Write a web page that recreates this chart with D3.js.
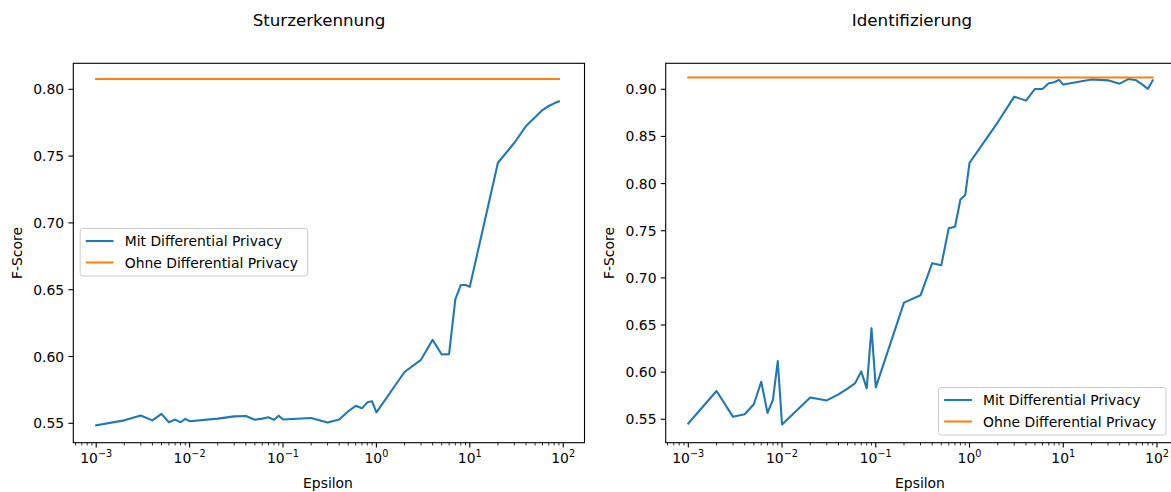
<!DOCTYPE html>
<html>
<head>
<meta charset="utf-8">
<script src="https://cdn.jsdelivr.net/npm/d3@7"></script>
<style>
  html, body { margin: 0; padding: 0; background: #fff; }
  svg { display: block; font-family: "DejaVu Sans", sans-serif; }
</style>
</head>
<body>
<svg id="chart" width="1171" height="492"></svg>
<script>
// ---- Data ----
const epsilon = [
  0.001, 0.002, 0.003, 0.004, 0.005, 0.006, 0.007, 0.008, 0.009,
  0.01, 0.02, 0.03, 0.04, 0.05, 0.06, 0.07, 0.08, 0.09,
  0.1, 0.2, 0.3, 0.4, 0.5, 0.6, 0.7, 0.8, 0.9,
  1, 2, 3, 4, 5, 6, 7, 8, 9,
  10, 20, 30, 40, 50, 60, 70, 80, 90
];
const sturzMitDP = [
  0.5485, 0.5522, 0.5558, 0.5522, 0.5571, 0.5508, 0.5528, 0.5508, 0.5533,
  0.5516, 0.5535, 0.5552, 0.5555, 0.5526, 0.5535, 0.5545, 0.5526, 0.5557,
  0.5528, 0.5540, 0.5506, 0.5528, 0.5590, 0.5631, 0.5612, 0.5657, 0.5665,
  0.5582, 0.5884, 0.5975, 0.6125, 0.6015, 0.6018, 0.6428, 0.6535, 0.6535,
  0.6522, 0.7450, 0.7600, 0.7725, 0.7790, 0.7845, 0.7875, 0.7895, 0.7910
];
const sturzOhneDP = 0.8077;
const identMitDP = [
  0.5456, 0.5800, 0.5526, 0.5553, 0.5660, 0.5898, 0.5568, 0.5709, 0.6118,
  0.5445, 0.5732, 0.5700, 0.5765, 0.5825, 0.5881, 0.6008, 0.5828, 0.6465,
  0.5838, 0.6737, 0.6815, 0.7156, 0.7135, 0.7526, 0.7543, 0.7831, 0.7880,
  0.8219, 0.8650, 0.8922, 0.8880, 0.9004, 0.9004, 0.9064, 0.9075, 0.9100,
  0.9050, 0.9105, 0.9095, 0.9060, 0.9110, 0.9095, 0.9050, 0.9005, 0.9095
];
const identOhneDP = 0.9125;
const xTickExponents = [-3, -2, -1, 0, 1, 2];
const sturzYTicks = [0.55, 0.60, 0.65, 0.70, 0.75, 0.80];
const identYTicks = [0.55, 0.60, 0.65, 0.70, 0.75, 0.80, 0.85, 0.90];
const seriesNames = ["Mit Differential Privacy", "Ohne Differential Privacy"];
const titles = ["Sturzerkennung", "Identifizierung"];

// ---- Styles ----
const BLUE = "#1f77b4", ORANGE = "#ff7f0e";
const FS = 13.9, TITLE_FS = 16.7;

const svg = d3.select("#chart");

function drawPanel(p) {
  const g = svg.append("g");
  const x = d3.scaleLog().domain([1e-3, 1e2]).range([p.x0, p.x1]);
  const y = d3.scaleLinear().domain([p.yd0, p.yd1]).range([p.y0, p.y1]);
  const L = p.left, R = p.right, T = p.top, B = p.bottom;

  // data lines
  const clipId = "clip" + p.id;
  svg.append("clipPath").attr("id", clipId)
    .append("rect").attr("x", L).attr("y", T).attr("width", R - L).attr("height", B - T);
  const plot = g.append("g").attr("clip-path", `url(#${clipId})`);
  const line = d3.line().x(d => x(d[0])).y(d => y(d[1]));
  plot.append("path")
    .datum(epsilon.map((e, i) => [e, p.values[i]]))
    .attr("d", line).attr("fill", "none").attr("stroke", BLUE)
    .attr("stroke-width", 2.08).attr("stroke-linejoin", "round").attr("stroke-linecap", "square");
  plot.append("path")
    .datum(epsilon.map(e => [e, p.baseline]))
    .attr("d", line).attr("fill", "none").attr("stroke", ORANGE)
    .attr("stroke-width", 2.08).attr("stroke-linecap", "square");

  // frame
  g.append("rect").attr("x", L).attr("y", T).attr("width", R - L).attr("height", B - T)
    .attr("fill", "none").attr("stroke", "#000").attr("stroke-width", 1.1);

  // x axis major ticks
  xTickExponents.forEach(k => {
    const xv = x(Math.pow(10, k));
    g.append("line").attr("x1", xv).attr("x2", xv).attr("y1", B).attr("y2", B + 4.9)
      .attr("stroke", "#000").attr("stroke-width", 1.1);
    const t = g.append("text").attr("x", xv).attr("y", B + 20.5)
      .attr("text-anchor", "middle").attr("font-size", FS).attr("fill", "#000");
    t.append("tspan").text("10");
    t.append("tspan").attr("dy", -6).attr("font-size", FS * 0.7)
      .text(k < 0 ? "\u2212" + Math.abs(k) : String(k));
  });
  // x axis minor ticks
  for (let k = -4; k <= 2; k++) {
    for (let m = 2; m <= 9; m++) {
      const xv = x(m * Math.pow(10, k));
      if (xv > L && xv < R) {
        g.append("line").attr("x1", xv).attr("x2", xv).attr("y1", B).attr("y2", B + 2.8)
          .attr("stroke", "#000").attr("stroke-width", 0.8);
      }
    }
  }
  // y ticks
  p.yTicks.forEach(v => {
    const yv = y(v);
    g.append("line").attr("x1", L - 4.9).attr("x2", L).attr("y1", yv).attr("y2", yv)
      .attr("stroke", "#000").attr("stroke-width", 1.1);
    g.append("text").attr("x", L - 9.2).attr("y", yv).attr("dy", "0.36em")
      .attr("text-anchor", "end").attr("font-size", FS).attr("fill", "#000")
      .text(d3.format(".2f")(v));
  });

  // title and labels
  g.append("text").attr("x", p.titleX).attr("y", 26).attr("text-anchor", "middle")
    .attr("font-size", TITLE_FS).attr("fill", "#000").text(p.title);
  g.append("text").attr("x", p.xLabelX).attr("y", 488).attr("text-anchor", "middle")
    .attr("font-size", FS).attr("fill", "#000").text("Epsilon");
  g.append("text").attr("transform", `translate(${p.yLabelX},${(T + B) / 2}) rotate(-90)`)
    .attr("text-anchor", "middle").attr("font-size", FS).attr("fill", "#000").text("F-Score");

  // legend
  const lg = g.append("g").attr("transform", `translate(${p.legX},${p.legY})`);
  const lw = 227.5, lh = 47.5;
  lg.append("rect").attr("x", 0).attr("y", 0).attr("width", lw).attr("height", lh)
    .attr("rx", 2.5).attr("fill", "rgba(255,255,255,0.8)").attr("stroke", "#cccccc").attr("stroke-width", 1);
  [BLUE, ORANGE].forEach((c, i) => {
    const ry = 12.5 + i * 21.5;
    lg.append("line").attr("x1", 5.6).attr("x2", 33.4).attr("y1", ry).attr("y2", ry)
      .attr("stroke", c).attr("stroke-width", 2.08);
    lg.append("text").attr("x", 44.5).attr("y", ry).attr("dy", "0.36em")
      .attr("font-size", FS).attr("fill", "#000").text(seriesNames[i]);
  });
}

drawPanel({
  id: 1, title: titles[0], values: sturzMitDP, baseline: sturzOhneDP,
  left: 73.3, right: 584.5, top: 63.3, bottom: 442.7,
  x0: 96.2, x1: 563.2, yd0: 0.55, yd1: 0.80, y0: 423.3, y1: 89.3,
  yTicks: sturzYTicks, titleX: 319, xLabelX: 328, yLabelX: 22,
  legX: 80.2, legY: 228.5
});
drawPanel({
  id: 2, title: titles[1], values: identMitDP, baseline: identOhneDP,
  left: 665.7, right: 1172.5, top: 63.3, bottom: 442.7,
  x0: 688.3, x1: 1157, yd0: 0.55, yd1: 0.90, y0: 419.3, y1: 89.3,
  yTicks: identYTicks, titleX: 912, xLabelX: 920, yLabelX: 614,
  legX: 938.5, legY: 387.5
});
</script>
</body>
</html>
